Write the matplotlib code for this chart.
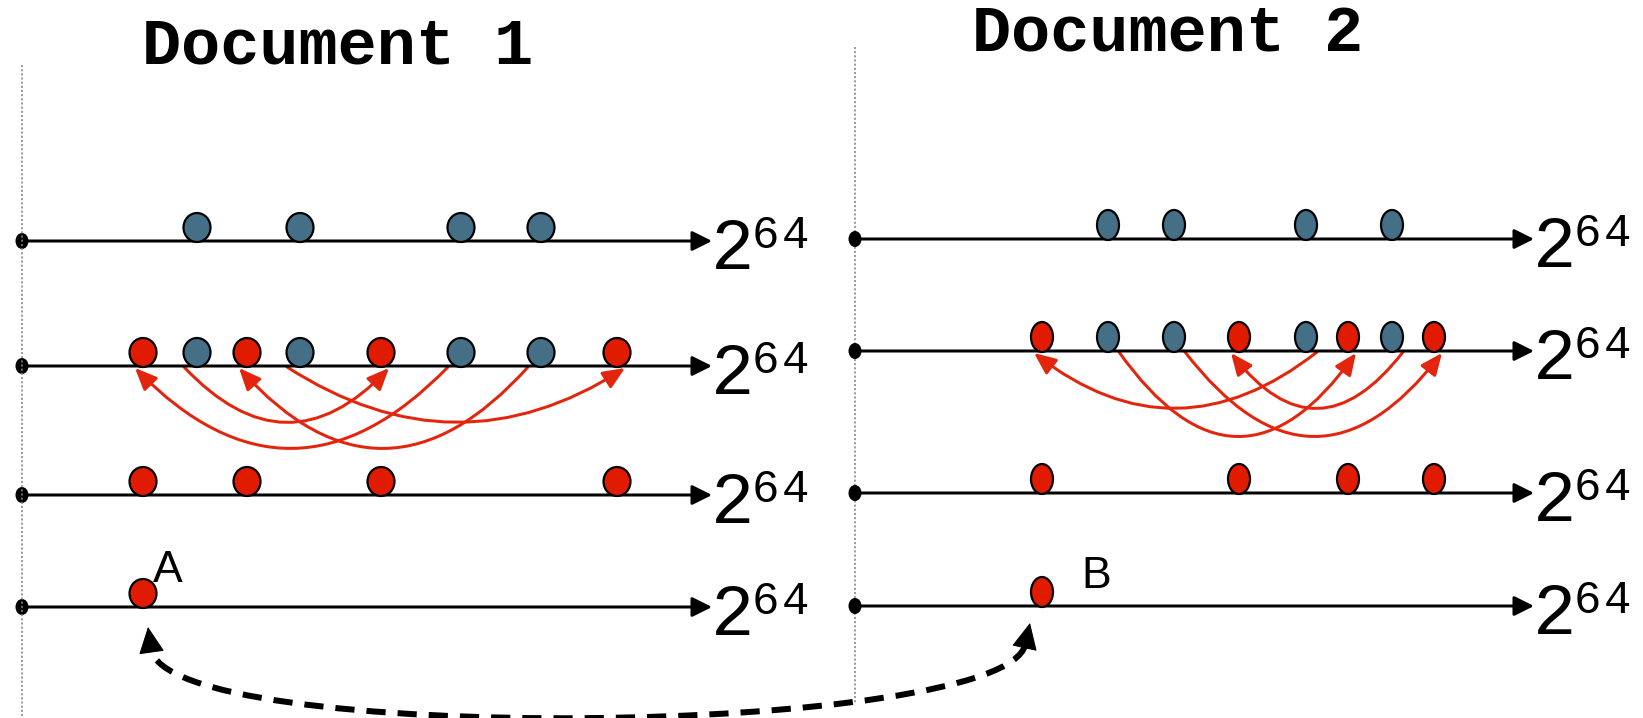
import numpy as np
import matplotlib.pyplot as plt
from matplotlib.patches import Ellipse, FancyArrowPatch, ArrowStyle
from matplotlib.path import Path

# canvas in pixels
W, H = 1643, 718
PX = 0.72  # points per pixel at dpi 100

titles = ['Document 1', 'Document 2']
title_x = [338, 1168]
title_y = [64, 51]
axis_x0 = [22, 855]
axis_x1 = [712, 1534]
guide_top = [65, 47]
guide_bottom = [718, 703]
rows_y = [[241, 366, 495, 607], [239, 351, 493, 606]]
blue_x = [[197, 300, 461, 541], [1108, 1174, 1306, 1392]]
red_x = [[143, 247, 381, 617], [1042, 1239, 1348, 1434]]
# (blue index -> red index) and how deep each arc hangs below the line
arc_pairs = [[(0, 2), (1, 3), (2, 0), (3, 1)], [(2, 0), (3, 1), (0, 2), (1, 3)]]
arc_depth = [[55, 55, 81, 81], [56, 56, 84, 84]]
labels = ['A', 'B']
label_x = [168, 1096]
label_y = [570, 576]

dot_w = [27, 22]
dot_h = [29, 30]
arc_start_off = [-13, 11]
RED = '#e01b00'
BLUE = '#456f87'
ARC_RED = '#e3250d'

fig = plt.figure(figsize=(W / 100, H / 100), dpi=100)
ax = fig.add_axes([0, 0, 1, 1])
ax.set_xlim(0, W)
ax.set_ylim(H, 0)
ax.axis('off')


def dot(x, y, d, color):
    ax.add_patch(Ellipse((x, y - dot_h[d] / 2 + 1), dot_w[d], dot_h[d],
                         fc=color, ec='black', lw=2.2 * PX, zorder=4))


for d in range(2):
    x0, x1 = axis_x0[d], axis_x1[d]
    ax.text(title_x[d], title_y[d], titles[d], family='Liberation Mono',
            weight='bold', fontsize=47, ha='center', va='baseline')
    ax.plot([x0, x0], [guide_top[d], guide_bottom[d]], color='#858585',
            lw=1.6 * PX, ls=(0, (1.3, 1.3)), zorder=5 if d == 0 else 0)

    for r, y in enumerate(rows_y[d]):
        ax.add_patch(FancyArrowPatch((x0, y), (x1, y),
                                     arrowstyle=ArrowStyle('-|>', head_length=0.6, head_width=0.3),
                                     mutation_scale=20, lw=3 * PX, color='black',
                                     shrinkA=0, shrinkB=0, zorder=3))
        ax.add_patch(Ellipse((x0, y), 13, 16, fc='black', ec='none', zorder=3))
        ax.text(x1 - 1, y + 28, '2', family='Liberation Mono', fontsize=52,
                ha='left', va='baseline')
        ax.text(x1 + 40, y + 7, '6', family='Liberation Mono', fontsize=33,
                ha='left', va='baseline')
        ax.text(x1 + 70, y + 7, '4', family='Liberation Mono', fontsize=33,
                ha='left', va='baseline')

    y0, y1, y2, y3 = rows_y[d]
    for x in blue_x[d]:
        dot(x, y0, d, BLUE)
        dot(x, y1, d, BLUE)
    for x in red_x[d]:
        dot(x, y1, d, RED)
        dot(x, y2, d, RED)
    dot(red_x[d][0], y3, d, RED)
    ax.text(label_x[d], label_y[d], labels[d], family='Liberation Sans',
            fontsize=32, ha='center', va='center')

    # red swap arcs under the second row
    for (bi, ri), depth in zip(arc_pairs[d], arc_depth[d]):
        xs = blue_x[d][bi] + arc_start_off[d]
        xe = red_x[d][ri]
        xe = xe + 8 if xe > xs else xe - 8
        verts = [(xs, y1 + 1), ((xs + xe) / 2, y1 + 2 * depth), (xe, y1 + 2)]
        p = Path(verts, [Path.MOVETO, Path.CURVE3, Path.CURVE3])
        ax.add_patch(FancyArrowPatch(path=p,
                                     arrowstyle=ArrowStyle('-|>', head_length=0.6, head_width=0.26),
                                     mutation_scale=22, lw=3 * PX, color=ARC_RED, zorder=2))

# dashed link between A and B, with solid heads at both ends
tip_b = np.array([1030, 623])
tip_a = np.array([148, 627])
ctrl_b = np.array([1005, 737])
ctrl_a = np.array([165, 747])
head_len = 24
ub = (tip_b - ctrl_b) / np.hypot(*(tip_b - ctrl_b))
ua = (tip_a - ctrl_a) / np.hypot(*(tip_a - ctrl_a))
base_b = tip_b - ub * (head_len - 2)
base_a = tip_a - ua * (head_len - 2)
link = Path([base_b, ctrl_b, ctrl_a, base_a],
            [Path.MOVETO, Path.CURVE4, Path.CURVE4, Path.CURVE4])
ax.add_patch(FancyArrowPatch(path=link, arrowstyle='-', lw=6 * PX, color='black',
                             ls=(0, (3.2, 2.0)), capstyle='butt', zorder=2))
for tip, u in [(tip_b, ub), (tip_a, ua)]:
    ax.add_patch(FancyArrowPatch(tuple(tip - u * head_len), tuple(tip),
                                 arrowstyle=ArrowStyle('-|>', head_length=0.62, head_width=0.3),
                                 mutation_scale=28, lw=1 * PX, color='black',
                                 shrinkA=0, shrinkB=0, zorder=2))

fig.savefig('out.png', dpi=100)
